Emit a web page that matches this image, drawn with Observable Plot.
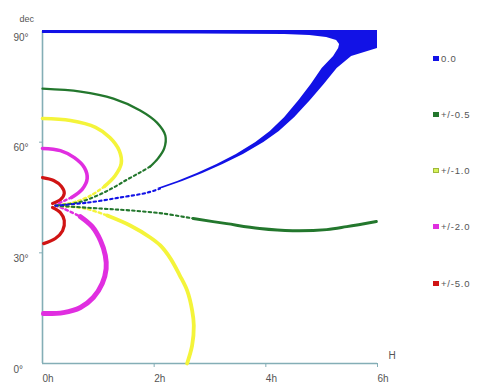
<!DOCTYPE html>
<html><head><meta charset="utf-8">
<script src="https://cdn.jsdelivr.net/npm/d3@7"></script>
<script src="https://cdn.jsdelivr.net/npm/@observablehq/plot@0.6"></script>
<style>
html,body{margin:0;padding:0;background:#fff;}
#wrap{position:relative;width:480px;height:388px;font-family:"Liberation Sans",Arial,sans-serif;overflow:hidden;}
#legend{position:absolute;left:433px;top:0;}
.item{position:absolute;left:0;display:flex;align-items:center;font-size:9.5px;letter-spacing:0.8px;color:#555;white-space:nowrap;height:10px;}
.sw{width:6px;height:5px;margin-right:2px;}
</style></head><body><div id="wrap"><div id="legend"></div></div>
<script>
// ---- data (H in hours, dec in degrees) ----
const seriesLabels = ["0.0", "+/-0.5", "+/-1.0", "+/-2.0", "+/-5.0"];
const seriesColors = ["#1212e6", "#23772d", "#f4f43a", "#e02ee0", "#d01414"];
const xTicks = [0, 2, 4, 6];
const yTicks = [0, 30, 60, 90];

// blue (0.0): band between an inner and an outer edge
const blueBandDec   = [47.43, 49.32, 51.49, 53.93, 56.64, 59.89, 62.87, 66.67, 71.27, 75.61, 79.95, 83.20, 85.37, 86.45, 87.53, 88.35, 88.89, 89.16, 89.35, 89.43, 90.24];
const blueBandInner = [2.062, 2.420, 2.772, 3.125, 3.473, 3.821, 4.080, 4.339, 4.594, 4.813, 5.009, 5.214, 5.304, 5.321, 5.268, 5.089, 4.786, 4.339, 2.820, 0.000, 0.000];
const blueBandOuter = [2.152, 2.509, 2.871, 3.232, 3.598, 3.964, 4.241, 4.518, 4.799, 5.045, 5.277, 5.536, 6.000, 6.000, 6.000, 6.000, 6.000, 6.000, 6.000, 6.000, 6.000];
const blueNearH   = [0.23, 0.80, 1.39, 1.875, 2.107];
const blueNearDec = [42.8, 43.6, 45.0, 46.3, 47.43];

// green (+/-0.5)
const greenUpperH   = [0, 0.68, 1.27, 1.75, 2.05, 2.20, 2.18, 2.07, 1.93];
const greenUpperDec = [74.5, 73.7, 71.8, 68.6, 65.3, 61.8, 58.3, 55.6, 53.4];
const greenUpperNearH   = [1.93, 1.75, 1.52, 1.27, 0.98, 0.625, 0.23];
const greenUpperNearDec = [53.4, 51.8, 49.9, 47.7, 45.5, 43.6, 42.8];
const greenLowerNearH   = [0.23, 1.04, 1.57, 2.16, 2.70];
const greenLowerNearDec = [42.8, 42.0, 41.5, 40.65, 39.3];
const greenLowerH   = [2.70, 3.30, 3.89, 4.48, 5.09, 5.45, 5.98];
const greenLowerDec = [39.3, 37.9, 36.6, 36.0, 36.3, 37.1, 38.5];

// yellow (+/-1.0)
const yellowUpperH   = [0, 0.5, 0.95, 1.21, 1.375, 1.41, 1.30, 1.11];
const yellowUpperDec = [66.4, 65.85, 64.0, 61.2, 57.7, 54.2, 50.9, 48.0];
const yellowUpperNearH   = [1.11, 0.86, 0.54, 0.23];
const yellowUpperNearDec = [48.0, 45.5, 43.6, 42.8];
const yellowLowerNearH   = [0.23, 0.40, 0.77, 1.16];
const yellowLowerNearDec = [42.8, 42.6, 42.0, 40.1];
const yellowLowerH   = [1.16, 1.57, 1.93, 2.11, 2.29, 2.46, 2.59, 2.68, 2.71, 2.68, 2.59];
const yellowLowerDec = [40.1, 37.4, 34.15, 32.0, 28.5, 23.85, 19.8, 14.4, 10.3, 4.9, 0];

// magenta (+/-2.0)
const magentaUpperH   = [0, 0.32, 0.57, 0.75, 0.80, 0.71, 0.52];
const magentaUpperDec = [58.3, 57.7, 55.8, 53.1, 50.1, 47.2, 45.0];
const magentaUpperNearH   = [0.52, 0.29, 0.23];
const magentaUpperNearDec = [45.0, 43.4, 42.8];
const magentaLowerNearH   = [0.23, 0.375, 0.68];
const magentaLowerNearDec = [42.8, 42.0, 39.8];
const magentaLowerH   = [0.68, 0.89, 1.04, 1.125, 1.14, 1.07, 0.91, 0.68, 0.375, 0.018];
const magentaLowerDec = [39.8, 37.1, 33.3, 29.3, 25.7, 21.7, 17.9, 15.2, 13.8, 13.55];

// red (+/-5.0)
const redUpperH   = [0, 0.20, 0.34, 0.39, 0.32, 0.18];
const redUpperDec = [50.4, 49.6, 48.0, 46.1, 44.4, 43.4];
const redLowerH   = [0.18, 0.32, 0.39, 0.36, 0.23, 0.02];
const redLowerDec = [42.3, 40.9, 38.75, 36.0, 33.9, 32.5];

// ---- build tables ----
const pts = (hs, ds) => hs.map((h, i) => ({H: h, dec: ds[i]}));
const band = blueBandDec.map((d, i) => ({dec: d, h1: blueBandInner[i], h2: blueBandOuter[i]}));

const axisColor = "#84aeb6";
const solid = (data, color, w) => Plot.line(data, {x: "H", y: "dec", stroke: color, strokeWidth: w, curve: "catmull-rom", strokeLinecap: "round"});
const dotted = (data, color, w) => Plot.line(data, {x: "H", y: "dec", stroke: color, strokeWidth: w, curve: "catmull-rom", strokeDasharray: "2.5,3"});

const chart = Plot.plot({
  width: 480, height: 388,
  marginTop: 31, marginRight: 103, marginBottom: 25, marginLeft: 42,
  style: {fontFamily: "'Liberation Sans', Arial, sans-serif", fontSize: "10px", color: "#555", background: "#fff"},
  x: {domain: [0, 6], axis: null},
  y: {domain: [0, 90], axis: null},
  marks: [
    // axes
    Plot.axisY({ticks: [30, 60], tickSize: 3, tickFormat: () => "", stroke: axisColor, label: null}),
    Plot.axisX({ticks: [2, 4, 6], tickSize: 4, tickFormat: () => "", stroke: axisColor, label: null}),
    Plot.ruleX([0], {y1: 0, y2: 90, stroke: axisColor, strokeWidth: 1.6}),
    Plot.ruleY([0], {x1: 0, x2: 6, stroke: axisColor, strokeWidth: 1.6}),
    Plot.text(yTicks, {y: d => d, frameAnchor: "left", dx: -29, dy: 6, textAnchor: "start", text: d => d + "°", fill: "#555"}),
    Plot.text(xTicks, {x: d => d, frameAnchor: "bottom", dy: 18, textAnchor: "start", text: d => d + "h", fill: "#555"}),
    Plot.text(["dec"], {frameAnchor: "top-left", dx: -23, dy: -16, textAnchor: "start", text: d => d, fill: "#555", fontSize: 9}),
    Plot.text(["H"], {frameAnchor: "bottom-right", dx: 11, dy: -5, textAnchor: "start", text: d => d, fill: "#555"}),

    // red
    solid(pts(redUpperH, redUpperDec), seriesColors[4], 3.2),
    solid(pts(redLowerH, redLowerDec), seriesColors[4], 3.2),
    // magenta
    solid(pts(magentaUpperH, magentaUpperDec), seriesColors[3], 3.6),
    dotted(pts(magentaUpperNearH, magentaUpperNearDec), seriesColors[3], 2.4),
    solid(pts(magentaLowerH, magentaLowerDec), seriesColors[3], 5),
    dotted(pts(magentaLowerNearH, magentaLowerNearDec), seriesColors[3], 2.4),
    // yellow
    solid(pts(yellowUpperH, yellowUpperDec), seriesColors[2], 3.6),
    dotted(pts(yellowUpperNearH, yellowUpperNearDec), seriesColors[2], 2.4),
    solid(pts(yellowLowerH, yellowLowerDec), seriesColors[2], 3.8),
    dotted(pts(yellowLowerNearH, yellowLowerNearDec), seriesColors[2], 2.4),
    // green
    solid(pts(greenUpperH, greenUpperDec), seriesColors[1], 2.3),
    dotted(pts(greenUpperNearH, greenUpperNearDec), seriesColors[1], 2.1),
    dotted(pts(greenLowerNearH, greenLowerNearDec), seriesColors[1], 2.1),
    solid(pts(greenLowerH, greenLowerDec), seriesColors[1], 2.9),
    // blue
    dotted(pts(blueNearH, blueNearDec), seriesColors[0], 2.1),
    Plot.areaX(band, {y: "dec", x1: "h1", x2: "h2", fill: seriesColors[0], curve: "linear"})
  ]
});
document.getElementById("wrap").prepend(chart);

// legend
const leg = document.getElementById("legend");
seriesLabels.forEach((lab, i) => {
  const it = document.createElement("div");
  it.className = "item";
  it.style.top = (53 + i * 56.3) + "px";
  const sw = document.createElement("span");
  sw.className = "sw";
  sw.style.background = seriesColors[i];
  if (i === 2) { sw.style.background = "#d6f25a"; sw.style.boxShadow = "inset 0 0 0 1px #9fb83a"; }
  it.appendChild(sw);
  it.appendChild(document.createTextNode(lab));
  leg.appendChild(it);
});
</script></body></html>
